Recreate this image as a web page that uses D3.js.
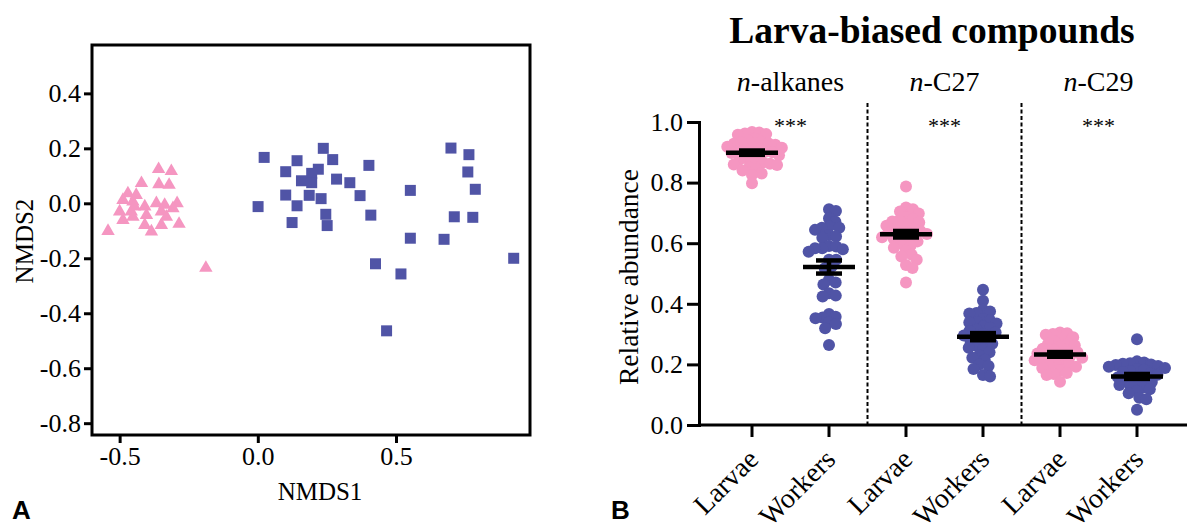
<!DOCTYPE html>
<html>
<head>
<meta charset="utf-8">
<script src="https://cdn.jsdelivr.net/npm/d3@7"></script>
<style>
  body { margin: 0; background: #fff; }
  svg { display: block; }
  text { font-family: "Liberation Serif", "Times New Roman", serif; fill: #000; }
  text.panel-tag { font-family: "Liberation Sans", Arial, sans-serif; font-weight: bold; }
</style>
</head>
<body>
<div id="chart"></div>
<script>
// Panel A: NMDS ordination, [NMDS1, NMDS2]
const nmdsLarvae = [
  [-0.359, 0.124], [-0.313, 0.117], [-0.421, 0.073], [-0.358, 0.069], [-0.321, 0.067],
  [-0.470, 0.036], [-0.440, 0.030], [-0.488, 0.012], [-0.452, 0.006], [-0.367, 0.000],
  [-0.337, -0.006], [-0.292, 0.000], [-0.409, -0.012], [-0.500, -0.030], [-0.458, -0.030],
  [-0.403, -0.043], [-0.349, -0.030], [-0.307, -0.018], [-0.488, -0.061], [-0.452, -0.049],
  [-0.409, -0.079], [-0.385, -0.103], [-0.349, -0.079], [-0.331, -0.049], [-0.285, -0.075],
  [-0.542, -0.101], [-0.446, -0.012], [-0.188, -0.235]
];
const nmdsWorkers = [
  [0.023, 0.167], [0.001, -0.012], [0.101, 0.115], [0.101, 0.030], [0.124, -0.070],
  [0.142, 0.155], [0.237, 0.200], [0.271, 0.159], [0.402, 0.138], [0.219, 0.124],
  [0.195, 0.109], [0.158, 0.082], [0.195, 0.075], [0.285, 0.088], [0.333, 0.075],
  [0.186, 0.029], [0.229, 0.017], [0.370, 0.028], [0.142, -0.009], [0.246, -0.040],
  [0.251, -0.081], [0.409, -0.043], [0.552, 0.047], [0.699, 0.201], [0.764, 0.177],
  [0.760, 0.114], [0.787, 0.051], [0.711, -0.049], [0.778, -0.051], [0.552, -0.127],
  [0.674, -0.131], [0.926, -0.200], [0.426, -0.220], [0.518, -0.257], [0.466, -0.464]
];
const nmdsYTicks = [0.4, 0.2, 0.0, -0.2, -0.4, -0.6, -0.8];
const nmdsXTicks = [-0.5, 0.0, 0.5];

// Panel B: relative abundance per sample
const groups = ["alk-L", "alk-W", "c27-L", "c27-W", "c29-L", "c29-W"];
const groupLabels = ["Larvae", "Workers", "Larvae", "Workers", "Larvae", "Workers"];
const compounds = [
  { pre: "n", name: "-alkanes", sig: "***" },
  { pre: "n", name: "-C27", sig: "***" },
  { pre: "n", name: "-C29", sig: "***" }
];
const alkLarvae = [0.967, 0.965, 0.962, 0.960, 0.958, 0.945, 0.940, 0.935, 0.932, 0.930,
  0.928, 0.925, 0.920, 0.918, 0.915, 0.912, 0.910, 0.905, 0.902, 0.900, 0.898, 0.895,
  0.890, 0.885, 0.880, 0.875, 0.870, 0.866, 0.862, 0.860, 0.858, 0.850, 0.845, 0.840,
  0.830, 0.825, 0.798];
const alkWorkers = [0.712, 0.706, 0.682, 0.671, 0.655, 0.651, 0.651, 0.644, 0.627, 0.622,
  0.618, 0.591, 0.589, 0.583, 0.583, 0.580, 0.572, 0.545, 0.545, 0.523, 0.517, 0.479,
  0.470, 0.464, 0.435, 0.427, 0.424, 0.366, 0.357, 0.355, 0.352, 0.339, 0.333, 0.319, 0.264];
const c27Larvae = [0.787, 0.718, 0.712, 0.705, 0.698, 0.685, 0.680, 0.676, 0.672, 0.668,
  0.662, 0.658, 0.652, 0.648, 0.643, 0.640, 0.636, 0.633, 0.630, 0.627, 0.624, 0.620,
  0.615, 0.610, 0.606, 0.600, 0.592, 0.585, 0.575, 0.562, 0.556, 0.545, 0.528, 0.518, 0.470];
const c27Workers = [0.446, 0.410, 0.380, 0.375, 0.370, 0.368, 0.350, 0.345, 0.340, 0.338,
  0.335, 0.325, 0.320, 0.315, 0.310, 0.305, 0.300, 0.295, 0.290, 0.285, 0.280, 0.275,
  0.268, 0.262, 0.255, 0.250, 0.240, 0.230, 0.222, 0.215, 0.200, 0.195, 0.185, 0.165, 0.160];
const c29Larvae = [0.305, 0.303, 0.300, 0.298, 0.290, 0.282, 0.275, 0.270, 0.268, 0.262,
  0.258, 0.252, 0.248, 0.245, 0.240, 0.236, 0.232, 0.228, 0.225, 0.222, 0.218, 0.214,
  0.210, 0.205, 0.200, 0.196, 0.192, 0.188, 0.180, 0.172, 0.168, 0.165, 0.143];
const c29Workers = [0.283, 0.210, 0.206, 0.204, 0.202, 0.200, 0.198, 0.195, 0.192, 0.188,
  0.185, 0.182, 0.178, 0.175, 0.170, 0.166, 0.162, 0.158, 0.155, 0.150, 0.146, 0.142,
  0.138, 0.132, 0.128, 0.124, 0.118, 0.112, 0.105, 0.090, 0.085, 0.050];
const abundTicks = [0.0, 0.2, 0.4, 0.6, 0.8, 1.0];

const PINK = "#f596c1";
const BLUE = "#5054a6";
const SERIF = '"Liberation Serif", "Times New Roman", serif';
// plain hyphen for negatives, like the original figure
const fmt = (d) => d3.format(".1f")(d).replace("\u2212", "-");

const width = 1187, height = 526;
const svg = d3.select("#chart").append("svg")
  .attr("width", width).attr("height", height);

// ---------- Panel A ----------
const xA = d3.scaleLinear().domain([-0.6, 0.985]).range([92, 530]);
const yA = d3.scaleLinear().domain([-0.843, 0.576]).range([435, 45]);

const gA = svg.append("g");

gA.append("g")
  .attr("transform", `translate(${xA.range()[0]},0)`)
  .call(d3.axisLeft(yA).tickValues(nmdsYTicks).tickSize(8).tickPadding(3).tickFormat(fmt))
  .call((g) => g.select(".domain").remove())
  .call((g) => g.selectAll(".tick line").attr("stroke-width", 3))
  .call((g) => g.selectAll(".tick text").style("font-size", "26px").style("font-family", SERIF));

gA.append("g")
  .attr("transform", `translate(0,${yA.range()[0]})`)
  .call(d3.axisBottom(xA).tickValues(nmdsXTicks).tickSize(8).tickPadding(4).tickFormat(fmt))
  .call((g) => g.select(".domain").remove())
  .call((g) => g.selectAll(".tick line").attr("stroke-width", 3))
  .call((g) => g.selectAll(".tick text").style("font-size", "26px").style("font-family", SERIF));

gA.append("rect")
  .attr("x", xA.range()[0]).attr("y", yA.range()[1])
  .attr("width", xA.range()[1] - xA.range()[0])
  .attr("height", yA.range()[0] - yA.range()[1])
  .attr("fill", "none").attr("stroke", "#000").attr("stroke-width", 3);

const tri = d3.symbol().type(d3.symbolTriangle).size(78);
const sq = d3.symbol().type(d3.symbolSquare).size(121);

gA.append("g").selectAll("path")
  .data(nmdsWorkers)
  .join("path")
  .attr("d", sq)
  .attr("fill", BLUE)
  .attr("transform", (d) => `translate(${xA(d[0])},${yA(d[1])})`);

gA.append("g").selectAll("path")
  .data(nmdsLarvae)
  .join("path")
  .attr("d", tri)
  .attr("fill", PINK)
  .attr("transform", (d) => `translate(${xA(d[0])},${yA(d[1])})`);

gA.append("text")
  .attr("x", 320).attr("y", 500)
  .attr("text-anchor", "middle").style("font-size", "25px")
  .text("NMDS1");

gA.append("text")
  .attr("transform", "translate(33,241) rotate(-90)")
  .attr("text-anchor", "middle").style("font-size", "25px")
  .text("NMDS2");

gA.append("text").attr("class", "panel-tag")
  .attr("x", 12).attr("y", 519).style("font-size", "26px")
  .text("A");

// ---------- Panel B ----------
const xB = d3.scaleBand().domain(groups).range([713.5, 1175.5]);
const yB = d3.scaleLinear().domain([0, 1]).range([425, 122]);
const cx = (g) => xB(g) + xB.bandwidth() / 2;

const gB = svg.append("g");

gB.append("text")
  .attr("x", 932).attr("y", 43)
  .attr("text-anchor", "middle").style("font-size", "37.5px").style("font-weight", "bold")
  .text("Larva-biased compounds");

gB.append("g")
  .attr("transform", "translate(699,0)")
  .call(d3.axisLeft(yB).tickValues(abundTicks).tickSize(12).tickPadding(4).tickFormat(fmt))
  .call((g) => g.select(".domain").attr("stroke-width", 3))
  .call((g) => g.selectAll(".tick line").attr("stroke-width", 3))
  .call((g) => g.selectAll(".tick text").style("font-size", "26px").style("font-family", SERIF));

gB.append("line")
  .attr("x1", 699).attr("x2", 1187)
  .attr("y1", yB(0)).attr("y2", yB(0))
  .attr("stroke", "#000").attr("stroke-width", 3);

gB.append("g").selectAll("line")
  .data(groups)
  .join("line")
  .attr("x1", cx).attr("x2", cx)
  .attr("y1", yB(0)).attr("y2", yB(0) + 12)
  .attr("stroke", "#000").attr("stroke-width", 3);

gB.append("g").selectAll("text")
  .data(groups)
  .join("text")
  .attr("transform", (d) => `translate(${cx(d) + 8},${yB(0) + 36}) rotate(-45)`)
  .attr("text-anchor", "end").style("font-size", "28px")
  .text((d, i) => groupLabels[i]);

gB.append("text")
  .attr("transform", `translate(638,277) rotate(-90)`)
  .attr("text-anchor", "middle").style("font-size", "27.5px")
  .text("Relative abundance");

// dashed separators between compounds
const seps = [1, 3].map((i) => (cx(groups[i]) + cx(groups[i + 1])) / 2);
gB.append("g").selectAll("line")
  .data(seps)
  .join("line")
  .attr("x1", (d) => d).attr("x2", (d) => d)
  .attr("y1", 103).attr("y2", yB(0))
  .attr("stroke", "#000").attr("stroke-width", 2).attr("stroke-dasharray", "4,2.5");

compounds.forEach((c, i) => {
  const mid = (cx(groups[i * 2]) + cx(groups[i * 2 + 1])) / 2;
  const t = gB.append("text")
    .attr("x", mid).attr("y", 91)
    .attr("text-anchor", "middle").style("font-size", "28px");
  t.append("tspan").style("font-style", "italic").text(c.pre);
  t.append("tspan").text(c.name);
  gB.append("text")
    .attr("x", mid).attr("y", 133)
    .attr("text-anchor", "middle").style("font-size", "22px")
    .text(c.sig);
});

// beeswarm offsets so the dots don't pile up
function swarm(values, D) {
  const pts = values.map((v) => ({ v, y: yB(v), x: 0 }))
    .sort((a, b) => b.v - a.v);
  const placed = [];
  pts.forEach((p) => {
    const cand = [0];
    placed.forEach((q) => {
      const dy = p.y - q.y;
      if (Math.abs(dy) < D) {
        const dx = Math.sqrt(D * D - dy * dy);
        cand.push(q.x + dx, q.x - dx);
      }
    });
    cand.sort((a, b) => Math.abs(a) - Math.abs(b));
    p.x = cand.find((c) =>
      placed.every((q) => (c - q.x) ** 2 + (p.y - q.y) ** 2 >= D * D - 1e-6));
    placed.push(p);
  });
  return pts;
}

const series = [alkLarvae, alkWorkers, c27Larvae, c27Workers, c29Larvae, c29Workers];

series.forEach((vals, i) => {
  const g = groups[i];
  const x0 = cx(g);
  const color = i % 2 === 0 ? PINK : BLUE;
  gB.append("g").selectAll("circle")
    .data(swarm(vals, 7.2))
    .join("circle")
    .attr("cx", (d) => x0 + d.x)
    .attr("cy", (d) => d.y)
    .attr("r", 6)
    .attr("fill", color);

  const m = d3.mean(vals);
  const sem = d3.deviation(vals) / Math.sqrt(vals.length);
  const bars = gB.append("g").attr("stroke", "#000").attr("stroke-width", 4.5);
  bars.append("line")
    .attr("x1", x0 - 26).attr("x2", x0 + 26)
    .attr("y1", yB(m)).attr("y2", yB(m));
  bars.append("line")
    .attr("x1", x0).attr("x2", x0)
    .attr("y1", yB(m + sem)).attr("y2", yB(m - sem));
  [m + sem, m - sem].forEach((v) => {
    bars.append("line")
      .attr("x1", x0 - 13).attr("x2", x0 + 13)
      .attr("y1", yB(v)).attr("y2", yB(v));
  });
});

gB.append("text").attr("class", "panel-tag")
  .attr("x", 611).attr("y", 519).style("font-size", "26px")
  .text("B");
</script>
</body>
</html>
